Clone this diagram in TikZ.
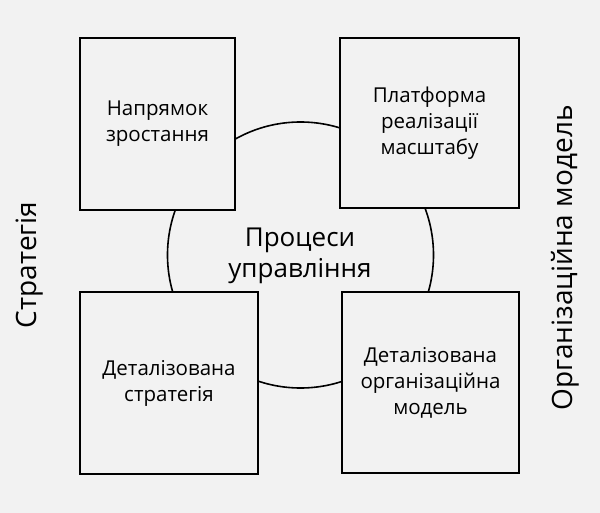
\documentclass[tikz,border=0pt]{standalone}
\usepackage{fontspec}
\setmainfont{Open Sans}
\definecolor{bg}{HTML}{F2F2F2}
\begin{document}
\begin{tikzpicture}[x=1pt,y=-1pt,
 box/.style={draw=black,line width=1.6pt,fill=bg,align=center,font=\fontsize{20.5}{26}\selectfont},
 side/.style={rotate=90,font=\fontsize{28}{32}\selectfont}]
\fill[bg] (0,0) rectangle (600,513);
\useasboundingbox (0,0) rectangle (600,513);
\node[draw=black,line width=1.6pt,circle,minimum size=266pt] (c) at (300.5,255) {};
\node[font=\fontsize{26}{31}\selectfont,align=center] (ct) at (300,256) {Процеси\\управління};
\node[box,minimum width=155pt,minimum height=172pt] (a) at (157.5,124) {Напрямок\\зростання};
\node[box,minimum width=179pt,minimum height=170pt] (b) at (429.5,123) {Платформа\\реалізації\\масштабу};
\node[box,minimum width=178pt,minimum height=182pt] (d) at (169,383) {Деталізована\\стратегія};
\node[box,minimum width=177pt,minimum height=181pt] (e) at (430.5,382.5) {Деталізована\\організаційна\\модель};
\node[side] (s1) at (30,265) {Стратегія};
\node[side] (s2) at (565,258) {Організаційна модель};
\end{tikzpicture}
\end{document}
